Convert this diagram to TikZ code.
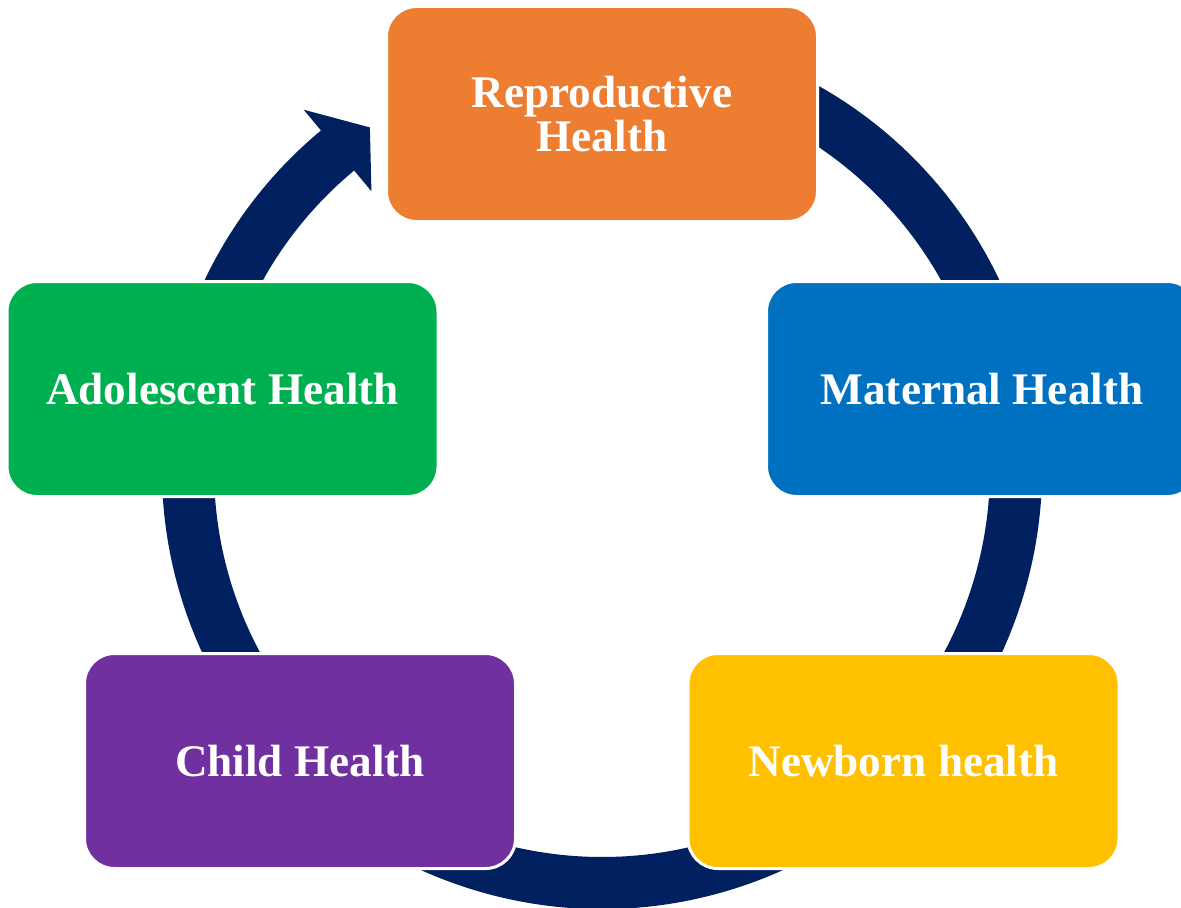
\documentclass[tikz,border=0pt]{standalone}
\usepackage{fontspec}
\setmainfont{Liberation Serif}
\usetikzlibrary{calc}
\definecolor{ringnavy}{HTML}{002060}
\definecolor{reprocol}{HTML}{ED7D31}
\definecolor{materncol}{HTML}{0070C0}
\definecolor{newborncol}{HTML}{FFC000}
\definecolor{childcol}{HTML}{7030A0}
\definecolor{adolcol}{HTML}{00B050}
\begin{document}
\begin{tikzpicture}[x=0.5pt, y=0.5pt,
		stage/.style={draw=white, line width=1.5pt, rounded corners=15pt,
			minimum width=215.5pt, minimum height=107.5pt, inner sep=0pt,
			text=white, align=center, font=\fontsize{22.6}{22}\selectfont\bfseries}]
		\useasboundingbox (0,0) rectangle (1181,907);
		\clip (0,0) rectangle (1181,907);
		\coordinate (ctr) at (602,438);
		% ring with its arrow head
		\fill[ringnavy] ($(ctr)+(70:440)$) arc[start angle=70, end angle=-230.3, radius=440]
		-- ($(ctr)+(129.7:467)$) -- ($(ctr)+(124.2:413)$) -- ($(ctr)+(129.7:361)$)
		-- ($(ctr)+(129.7:388)$) arc[start angle=-230.3, end angle=70, radius=388] -- cycle;
		% stages
		\node[stage, fill=reprocol] (repro) at (602,793) {Reproductive\\Health};
		\node[stage, fill=materncol] (matern) at (982,518) {Maternal Health};
		\node[stage, fill=newborncol] (newborn) at (903.5,146) {Newborn health};
		\node[stage, fill=childcol] (child) at (300,146) {Child Health};
		\node[stage, fill=adolcol] (adol) at (222.5,518) {Adolescent Health};
	\end{tikzpicture}
\end{document}
